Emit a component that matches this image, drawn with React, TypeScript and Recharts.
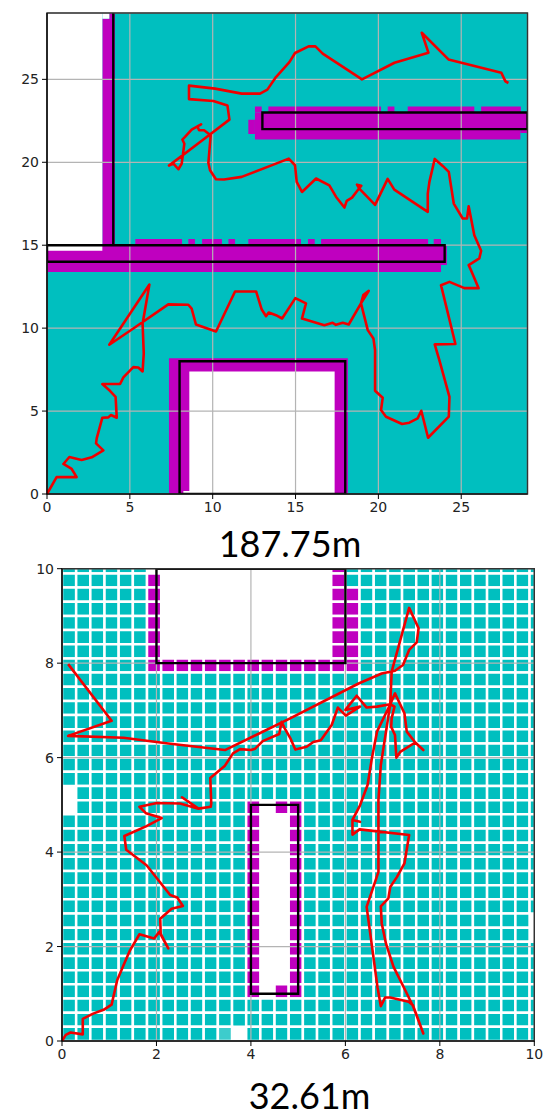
import React from "react";
import { LineChart, Line, XAxis, YAxis, CartesianGrid, ReferenceArea, ReferenceLine } from "recharts";

const TEAL = "#00bfbf";
const MAGENTA = "#bf00bf";
const WHITE = "#ffffff";
const FADED = "#3dcccc";

// ---- top map ----
const topTitle = "187.75m";
const topTicks = [0, 5, 10, 15, 20, 25];
const topMagenta = [
  [3.34, 4.1, 14.66, 28.65], [3.76, 4.1, 28.65, 29],
  [0, 23.78, 13.39, 13.8], [0, 24.13, 13.8, 15],
  [5.33, 8.15, 15, 15.38], [8.53, 8.93, 15, 15.38], [9.36, 10.56, 15, 15.38], [10.95, 11.35, 15, 15.38],
  [12.15, 15.33, 15, 15.38], [15.75, 16.16, 15, 15.38], [16.54, 23.0, 15, 15.38], [23.34, 23.78, 15, 15.38],
  [12.55, 28.57, 21.37, 22], [28.57, 29, 21.77, 22], [12.15, 12.55, 21.7, 22.57], [12.55, 29, 22, 23],
  [12.55, 12.96, 23, 23.37], [13.36, 20.16, 23, 23.37], [20.56, 20.97, 23, 23.37], [21.77, 25.79, 23, 23.37], [26.2, 28.6, 23, 23.37],
  [7.36, 18.16, 0, 8.19],
];
const topWhite = [
  [0, 3.34, 14.66, 29], [3.34, 3.76, 28.65, 29],
  [8.59, 17.36, 0.18, 7.39], [8.23, 17.36, 0, 0.18],
];
const topWalls = [
  [0, 24, 14, 15], [13, 29, 22, 23], [8, 18, 0, 8],
];
const topWallLines = [[4, 15, 4, 29]];
const topPathX = [0,0.58,1.79,1.49,0.99,1.35,2.09,2.7,3.4,2.96,3,3.34,3.7,3.86,4.21,4.14,3.8,3.34,4.41,4.61,5.21,5.51,5.77,5.84,5.77,6.18,3.76,5.21,7.32,8.53,8.73,8.99,10.2,11.35,12.62,12.96,13.22,13.38,13.82,14.19,14.99,15.63,15.39,16.74,17.24,17.44,17.85,18.21,18.95,19.09,19.42,18.95,19.36,19.7,19.8,19.8,20.26,20.16,20.46,21.43,21.87,22.37,22.59,23,24.25,24.29,23.68,23.4,24.65,23.78,24.29,25.19,26.05,25.59,25.45,26.09,26.2,25.79,25.45,25.35,25.09,24.55,24.25,23.88,23.4,23.08,22.98,22.98,20.96,20.56,19.8,18.85,18.71,18.97,18.75,18.41,18.09,17.95,17.45,17.04,16.24,15.39,15.07,14.97,14.59,13.82,11.75,10.68,10.2,9.84,9.74,9.88,9.48,9.18,9.07,9.3,8.73,8.33,8.17,8.29,8.13,7.93,7.63,7.36,9.24,11.01,10.89,10.04,8.57,8.57,10.14,11.75,12.86,13.3,13.82,14.63,14.97,15.79,16.2,16.64,19.01,20.97,23.02,22.62,24.23,27.42,27.67,27.85];
const topPathY = [0,1.02,1.02,1.51,1.81,2.23,2.05,2.21,2.63,3.05,3.35,4.6,4.62,4.76,4.6,5.86,6.22,6.63,6.63,7.03,7.65,7.63,7.39,8.47,10.28,12.63,9,9.98,11.43,11.41,11.18,10.22,9.8,12.21,12.21,11.12,10.72,10.94,10.78,10.58,11.81,11.49,10.58,10.18,10.32,10.2,10.32,10.22,11.49,11.99,12.25,11.49,9.88,9.38,8.67,6.22,5.8,5.06,4.66,4.22,4.3,4.56,5.02,3.39,4.66,5.86,8.07,9.02,9.04,12.59,12.79,12.41,12.41,13.49,13.8,14.2,14.66,15.6,17.35,16.61,16.61,17.51,19.42,19.78,20.2,18.82,18.11,17.01,18.35,19,17.43,18.41,18.65,18.59,18.31,17.87,17.67,17.27,17.91,18.61,19.02,18.21,18.82,19.82,20.22,19.92,19.12,18.96,18.98,19.52,19.96,21.63,21.93,21.93,22.17,22.29,21.97,21.53,21.37,21.12,19.92,19.58,19.92,19.8,21.22,22.57,23.43,23.69,23.81,24.62,24.44,24.14,24.14,24.38,25.14,26.04,26.59,26.99,26.99,26.55,25,26,26.61,27.81,26.2,25.4,24.88,24.78];

// ---- bottom map ----
const bottomTitle = "32.61m";
const bottomTicks = [0, 2, 4, 6, 8, 10];
const cellSize = 0.3;
// rows listed from the top (row 33) down to row 0; t free, m occupied, w empty, f faded
const gridRows = [
  "ttttttwwwwwwwwwwwwwmtttttttttttttt",
  "ttttttmwwwwwwwwwwwwmtttttttttttttt",
  "ttttttmwwwwwwwwwwwwmmttttttttttttt",
  "ttttttmwwwwwwwwwwwwmmttttttttttttt",
  "ttttttmwwwwwwwwwwwwmmttttttttttttt",
  "ttttttmwwwwwwwwwwwwmmttttttttttttt",
  "ttttttmwwwwwwwwwwwwmmttttttttttttt",
  "ttttttmmmmmmmmmmmmmmmttttttttttttt",
  "tttttttttttttttttttttttttttttttttt",
  "tttttttttttttttttttttttttttttttttt",
  "tttttttttttttttttttttttttttttttttt",
  "tttttttttttttttttttttttttttttttttt",
  "tttttttttttttttttttttttttttttttttt",
  "tttttttttttttttttttttttttttttttttt",
  "tttttttttttttttttttttttttttttttttt",
  "tttttttttttttttttttttttttttttttttt",
  "wttttttttttttttttttttttttttttttttt",
  "wttttttttttttmwmmttttttttttttttttt",
  "tttttttttttttmwwmttttttttttttttttt",
  "tttttttttttttmwwmttttttttttttttttt",
  "tttttttttttttmwwmttttttttttttttttt",
  "tttttttttttttmwwmttttttttttttttttt",
  "tttttttttttttmwwmttttttttttttttttt",
  "tttttttttttttmwwmttttttttttttttttt",
  "tttttttttttttmwwmttttttttttttttttt",
  "tttttttttttttmwwmttttttttttttttttw",
  "tttttttttttttmwwmttttttttttttttttw",
  "tttttttttttttmwwmttttttttttttttttt",
  "tttttttttttttmwwmttttttttttttttttt",
  "tttttttttttttmwwmttttttttttttttttt",
  "tttttttttttttmwmmttttttttttttttttt",
  "tttttttttttttttttttttttttttttttttt",
  "tttttttttttttttttttttttttttttttttt",
  "tttttttttttfwttttttttttttttttttttt",
];
const bottomWalls = [
  [2, 6, 8, 10], [4, 5, 1, 5],
];
const bottomPathX = [0,0.08,0.18,0.44,0.44,0.66,0.88,1.05,1.17,1.3,1.44,1.64,1.95,2.06,2.25,2.09,2.08,2.32,2.56,2.44,2.29,1.79,1.36,1.32,1.79,2.11,1.78,1.64,2.01,2.5,2.89,2.54,2.89,3.15,3.16,3.14,3.45,3.62,3.77,4,4.09,4.25,4.6,4.65,4.71,4.83,4.94,5.18,5.32,5.48,5.71,5.84,6.01,6.31,6,6.24,6.45,6.67,6.95,7.04,6.98,6.97,7.05,7.08,7.16,7.48,7.65,7.48,7.3,7.25,7.05,6.95,6.67,6.56,6.47,6.31,6.15,6.31,6.15,6.15,6.3,7.35,7.25,7.09,6.95,6.91,6.75,6.77,6.86,7.02,7.27,7.44,7.65,7.43,7.34,6.95,6.84,6.75,6.68,6.45,6.7,6.7,6.75,6.95,6.98,7.35,7.55,7.51,7.35,7.22,7.05,6.77,6.28,4.83,3.45,2.25,1.3,0.13,1.05,0.13];
const bottomPathY = [0,0.13,0.18,0.14,0.47,0.58,0.66,0.77,1.29,1.6,1.92,2.26,2.17,2.31,1.96,2.27,2.59,2.8,2.86,3.04,3.09,3.72,4.05,4.34,4.55,4.72,4.82,4.96,5.04,5.03,4.92,5.16,4.92,4.96,5.03,5.57,5.83,6.09,6.18,6.16,6.19,6.35,6.5,6.76,6.63,6.42,6.17,6.23,6.33,6.37,6.69,7.06,6.89,7.08,7.01,7.31,7.06,7.08,7.13,7.08,6.83,6.65,6.48,6,6.12,6.32,6.16,6.32,6.55,6.94,7.36,7.13,6.55,5.98,5.42,4.99,4.68,4.64,4.68,4.37,4.48,4.36,3.76,3.47,3.26,3.02,2.85,2.49,2.06,1.57,1.07,0.72,0.16,0.76,0.83,0.92,0.92,0.74,1.14,2.84,3.58,5.1,5.84,7.13,7.82,9.17,8.74,8.44,8.28,7.96,7.84,7.78,7.57,6.83,6.16,6.3,6.42,6.46,6.78,7.98];

const toPoints = (xs: number[], ys: number[]) => xs.map((x, i) => ({ x, y: ys[i] }));
const cellColors: Record<string, string | null> = { t: TEAL, m: MAGENTA, f: FADED, w: null };
const tickStyle = { fontFamily: "DejaVu Sans", fontSize: 14, fill: "#222" };

type Rect = number[];
function fills(rects: Rect[], color: string, prefix: string) {
  return rects.map((r, i) => (
    <ReferenceArea key={prefix + i} x1={r[0]} x2={r[1]} y1={r[2]} y2={r[3]} fill={color} fillOpacity={1} stroke="none" ifOverflow="hidden" />
  ));
}
function walls(rects: Rect[]) {
  return rects.map((r, i) => (
    <ReferenceArea key={"wall" + i} x1={r[0]} x2={r[1]} y1={r[2]} y2={r[3]} fill="none" fillOpacity={0} stroke="#000" strokeWidth={2.4} ifOverflow="hidden" zIndex={200} />
  ));
}

function MapChart(props: {
  top: number; height: number; left: number; plotTop: number; right: number; max: number; ticks: number[];
  points: { x: number; y: number }[]; children: React.ReactNode;
}) {
  const { top, height, left, plotTop, right, max, ticks, points, children } = props;
  return (
    <div style={{ position: "absolute", left: 0, top }}>
      <LineChart width={552} height={height} data={points} margin={{ top: plotTop, right, bottom: 0, left: 0 }}>
        <XAxis dataKey="x" type="number" domain={[0, max]} ticks={ticks} interval={0} allowDataOverflow height={46}
          tick={tickStyle} tickSize={5} tickMargin={3} stroke="#000" tickLine={{ stroke: "#000" }} axisLine={{ stroke: "#000", strokeWidth: 1.2 }} />
        <YAxis dataKey="y" type="number" domain={[0, max]} ticks={ticks} interval={0} allowDataOverflow width={left}
          tick={tickStyle} tickSize={5} tickMargin={3} stroke="#000" tickLine={{ stroke: "#000" }} axisLine={{ stroke: "#000", strokeWidth: 1.2 }} />
        {children}
        <CartesianGrid stroke="#b4b4b4" strokeWidth={1.2} zIndex={150} />
        <Line dataKey="y" type="linear" stroke="#f00000" strokeWidth={2.6} dot={false} activeDot={false} isAnimationActive={false} strokeLinejoin="round" />
      </LineChart>
    </div>
  );
}

const titleStyle = (top: number, center: number): React.CSSProperties => ({
  position: "absolute", top, left: center - 100, width: 200, textAlign: "center",
  fontFamily: "Lato", fontSize: 36, lineHeight: "30px", color: "#000",
});

export default function App() {
  const cells = gridRows.flatMap((row, r) =>
    row.split("").map((c, i) => {
      const color = cellColors[c];
      if (!color) return null;
      const j = gridRows.length - 1 - r;
      return (
        <ReferenceArea key={`${i}-${j}`} x1={i * cellSize} x2={(i + 1) * cellSize} y1={j * cellSize} y2={(j + 1) * cellSize}
          fill={color} fillOpacity={1} stroke="#fff" strokeWidth={2.5} ifOverflow="hidden" />
      );
    })
  );
  return (
    <div style={{ position: "absolute", left: 0, top: 0, width: 552, height: 1114 }}>
      <MapChart top={0} height={540} left={47} plotTop={13} right={24.5} max={29} ticks={topTicks} points={toPoints(topPathX, topPathY)}>
        {fills([[0, 29, 0, 29]], TEAL, "bg")}
        {fills(topMagenta, MAGENTA, "m")}
        {fills(topWhite, WHITE, "w")}
        {walls(topWalls)}
        {topWallLines.map((l, i) => (
          <ReferenceLine key={"l" + i} segment={[{ x: l[0], y: l[1] }, { x: l[2], y: l[3] }]} stroke="#000" strokeWidth={2.4} zIndex={200} />
        ))}
        <ReferenceArea x1={0} x2={29} y1={0} y2={29} fill="none" fillOpacity={0} stroke="#333" strokeWidth={1.4} zIndex={210} />
      </MapChart>
      <MapChart top={540} height={547} left={62} plotTop={28.7} right={17.7} max={10} ticks={bottomTicks} points={toPoints(bottomPathX, bottomPathY)}>
        {cells}
        {walls(bottomWalls)}
        <ReferenceArea x1={0} x2={10} y1={0} y2={10} fill="none" fillOpacity={0} stroke="#333" strokeWidth={1.4} zIndex={210} />
      </MapChart>
      <div style={titleStyle(528, 290)}>{topTitle}</div>
      <div style={titleStyle(1080, 309.5)}>{bottomTitle}</div>
    </div>
  );
}
